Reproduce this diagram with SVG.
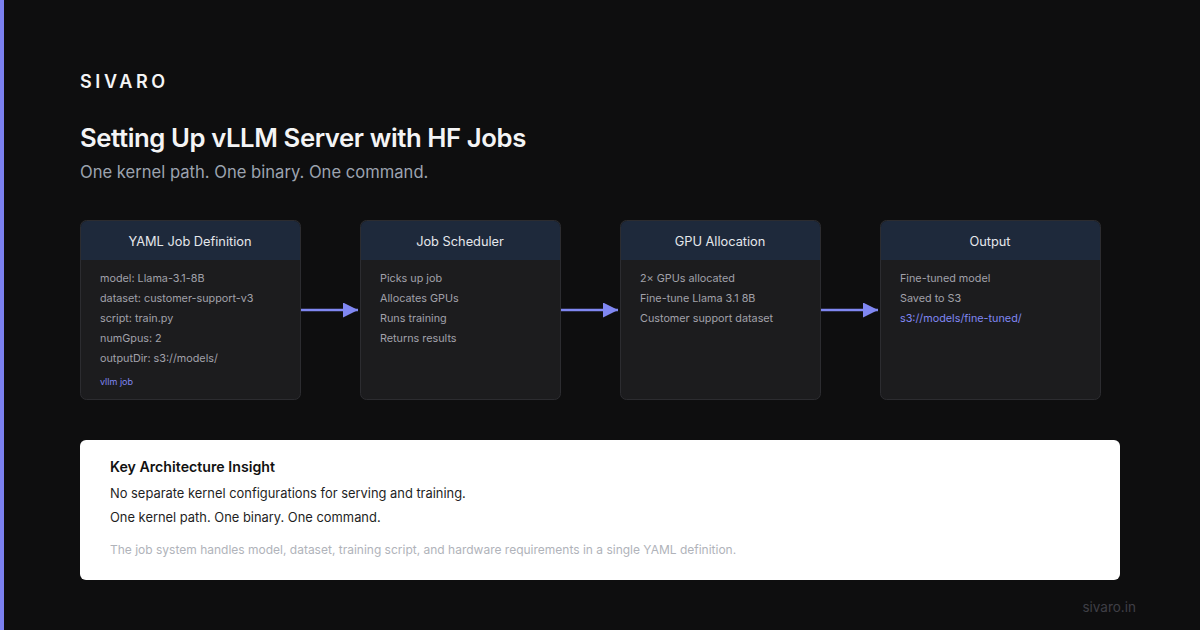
<svg xmlns="http://www.w3.org/2000/svg" width="1200" height="630" viewBox="0 0 1200 630">
<defs>
<marker id="arr" viewBox="0 0 10 10" refX="10" refY="5" markerWidth="6" markerHeight="6" markerUnits="strokeWidth" orient="auto"><path d="M0,0 L10,5 L0,10 z" fill="#8087f2"/></marker>
<style>
text{font-family:Inter,"Liberation Sans",sans-serif}
.box{fill:#1c1c1e;stroke:#2c2c30;stroke-width:1}
.hdr{fill:#1e293b}
.ht{font-size:12.8px;fill:#e5e7eb;text-anchor:middle}
.bt{font-size:10.8px;fill:#a1a1aa}
.lk{fill:#8087f2}
.sm{font-size:9px}
.conn{stroke:#8087f2;stroke-width:2.5;fill:none;marker-end:url(#arr)}
</style>
</defs>
<rect width="1200" height="630" fill="#0e0e0f"/>
<rect x="0" y="0" width="4" height="630" fill="#7b80f0"/>
<text x="80" y="88" font-size="18" font-weight="600" fill="#f4f4f5" letter-spacing="3.6">SIVARO</text>
<text x="80" y="147" font-size="25.7" font-weight="600" fill="#f4f4f5" letter-spacing="-0.4">Setting Up vLLM Server with HF Jobs</text>
<text x="80" y="178" font-size="16.6" fill="#9ca3af">One kernel path. One binary. One command.</text>

<g id="connectors">
<line class="conn" x1="300" y1="310" x2="358" y2="310"/>
<line class="conn" x1="560" y1="310" x2="618" y2="310"/>
<line class="conn" x1="820" y1="310" x2="878" y2="310"/>
</g>

<g id="node-yaml">
<rect class="box" x="80.5" y="220.5" width="220" height="179" rx="6"/>
<path class="hdr" d="M81,260 V227 a6,6 0 0 1 6,-6 H294 a6,6 0 0 1 6,6 V260 z"/>
<text class="ht" x="190" y="246">YAML Job Definition</text>
<text class="bt" x="100" y="282">model: Llama-3.1-8B</text>
<text class="bt" x="100" y="302">dataset: customer-support-v3</text>
<text class="bt" x="100" y="322">script: train.py</text>
<text class="bt" x="100" y="342">numGpus: 2</text>
<text class="bt" x="100" y="362">outputDir: s3://models/</text>
<text class="bt lk sm" x="100" y="385">vllm job</text>
</g>

<g id="node-scheduler">
<rect class="box" x="360.5" y="220.5" width="200" height="179" rx="6"/>
<path class="hdr" d="M361,260 V227 a6,6 0 0 1 6,-6 H554 a6,6 0 0 1 6,6 V260 z"/>
<text class="ht" x="460" y="246">Job Scheduler</text>
<text class="bt" x="380" y="282">Picks up job</text>
<text class="bt" x="380" y="302">Allocates GPUs</text>
<text class="bt" x="380" y="322">Runs training</text>
<text class="bt" x="380" y="342">Returns results</text>
</g>

<g id="node-gpu">
<rect class="box" x="620.5" y="220.5" width="200" height="179" rx="6"/>
<path class="hdr" d="M621,260 V227 a6,6 0 0 1 6,-6 H814 a6,6 0 0 1 6,6 V260 z"/>
<text class="ht" x="720" y="246">GPU Allocation</text>
<text class="bt" x="640" y="282">2× GPUs allocated</text>
<text class="bt" x="640" y="302">Fine-tune Llama 3.1 8B</text>
<text class="bt" x="640" y="322">Customer support dataset</text>
</g>

<g id="node-output">
<rect class="box" x="880.5" y="220.5" width="220" height="179" rx="6"/>
<path class="hdr" d="M881,260 V227 a6,6 0 0 1 6,-6 H1094 a6,6 0 0 1 6,6 V260 z"/>
<text class="ht" x="990" y="246">Output</text>
<text class="bt" x="900" y="282">Fine-tuned model</text>
<text class="bt" x="900" y="302">Saved to S3</text>
<text class="bt lk" x="900" y="322">s3://models/fine-tuned/</text>
</g>

<g id="insight">
<rect x="80" y="440" width="1040" height="140" rx="6" fill="#ffffff"/>
<text x="110" y="472" font-size="14.2" font-weight="600" fill="#111111">Key Architecture Insight</text>
<text x="110" y="498" font-size="12.9" fill="#1f1f1f">No separate kernel configurations for serving and training.</text>
<text x="110" y="522" font-size="12.9" fill="#1f1f1f">One kernel path. One binary. One command.</text>
<text x="110" y="554" font-size="12" fill="#b0b3ba">The job system handles model, dataset, training script, and hardware requirements in a single YAML definition.</text>
</g>
<text x="1136" y="612" font-size="13.5" fill="#3f3f46" text-anchor="end">sivaro.in</text>
</svg>
